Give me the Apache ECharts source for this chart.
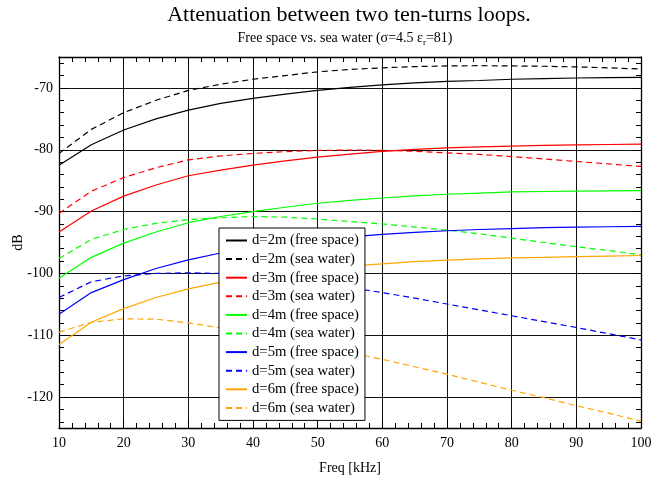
<!DOCTYPE html>
<html>
<head>
<meta charset="utf-8">
<script src="https://cdn.jsdelivr.net/npm/echarts@6/dist/echarts.min.js"></script>
<style>
  html, body { margin: 0; padding: 0; background: #fff; }
  #chart { width: 666px; height: 480px; }
</style>
</head>
<body>
<div id="chart"></div>
<script>
// Frequency samples (kHz)
const freq = [10, 15, 20, 25, 30, 35, 40, 45, 50, 55, 60, 65, 70, 75, 80, 85, 90, 95, 100];

// Attenuation (dB), free space and sea water, per loop separation
const d2Free = [-82.5, -79.2, -76.8, -75.0, -73.6, -72.5, -71.7, -71.0, -70.4, -69.9, -69.5, -69.2, -68.95, -68.8, -68.6, -68.5, -68.4, -68.35, -68.3];
const d2Sea  = [-80.6, -76.7, -74.0, -72.0, -70.4, -69.4, -68.6, -68.0, -67.4, -67.0, -66.75, -66.55, -66.45, -66.4, -66.45, -66.5, -66.6, -66.75, -66.95];
const d3Free = [-93.3, -89.9, -87.5, -85.7, -84.2, -83.3, -82.5, -81.8, -81.2, -80.7, -80.25, -79.95, -79.7, -79.55, -79.4, -79.3, -79.2, -79.15, -79.1];
const d3Sea  = [-90.3, -86.7, -84.5, -82.9, -81.65, -81.0, -80.6, -80.3, -80.1, -80.05, -80.1, -80.25, -80.5, -80.75, -81.1, -81.5, -81.9, -82.3, -82.7];
const d4Free = [-100.8, -97.4, -95.1, -93.3, -91.8, -90.8, -90.0, -89.3, -88.65, -88.2, -87.8, -87.45, -87.2, -87.0, -86.8, -86.75, -86.7, -86.65, -86.6];
const d4Sea  = [-97.6, -94.5, -92.9, -91.9, -91.3, -91.0, -90.8, -90.9, -91.2, -91.6, -92.0, -92.5, -93.0, -93.6, -94.3, -95.0, -95.7, -96.3, -97.0];
const d5Free = [-106.6, -103.1, -101.0, -99.2, -97.8, -96.7, -95.8, -95.1, -94.6, -94.1, -93.7, -93.35, -93.1, -92.9, -92.75, -92.6, -92.5, -92.45, -92.4];
const d5Sea  = [-103.9, -101.35, -100.4, -100.0, -99.9, -100.0, -100.4, -100.9, -101.6, -102.3, -103.1, -104.0, -104.95, -105.9, -106.85, -107.8, -108.75, -109.75, -110.75];
const d6Free = [-111.5, -107.9, -105.7, -103.9, -102.5, -101.4, -100.5, -99.8, -99.3, -98.8, -98.45, -98.1, -97.85, -97.65, -97.5, -97.4, -97.3, -97.2, -97.1];
const d6Sea  = [-109.5, -107.9, -107.35, -107.4, -108.0, -108.8, -109.7, -110.7, -111.8, -112.8, -113.9, -115.1, -116.3, -117.6, -118.9, -120.1, -121.4, -122.6, -123.9];

// Axis extents and labelled ticks
const xRange = [10, 100];
const yRange = [-125, -65];
const yTicks = [-120, -110, -100, -90, -80, -70];

const FONT = '"Liberation Serif", "DejaVu Serif", serif';

const curves = [
  { name: 'd=2m (free space)', data: d2Free, color: '#000000', dash: false },
  { name: 'd=2m (sea water)',  data: d2Sea,  color: '#000000', dash: true },
  { name: 'd=3m (free space)', data: d3Free, color: '#ff0000', dash: false },
  { name: 'd=3m (sea water)',  data: d3Sea,  color: '#ff0000', dash: true },
  { name: 'd=4m (free space)', data: d4Free, color: '#00ff00', dash: false },
  { name: 'd=4m (sea water)',  data: d4Sea,  color: '#00ff00', dash: true },
  { name: 'd=5m (free space)', data: d5Free, color: '#0000ff', dash: false },
  { name: 'd=5m (sea water)',  data: d5Sea,  color: '#0000ff', dash: true },
  { name: 'd=6m (free space)', data: d6Free, color: '#ffa500', dash: false },
  { name: 'd=6m (sea water)',  data: d6Sea,  color: '#ffa500', dash: true }
];

const chart = echarts.init(document.getElementById('chart'), null, { renderer: 'canvas' });

const gridLine = { show: true, lineStyle: { color: '#111', width: 1 } };
const frameLine = { show: true, onZero: false, lineStyle: { color: '#000', width: 1.3 } };

const xBase = {
  type: 'value', min: xRange[0], max: xRange[1], interval: 10,
  axisLine: frameLine,
  axisTick: { show: true, inside: true, length: 9, lineStyle: { color: '#000' } },
  minorTick: { show: true, splitNumber: 5, length: 5, lineStyle: { color: '#000' } },
  splitLine: { show: false }
};
// y ticks are left to the nice-number logic (step 10) so they land on multiples of 10
const yBase = {
  type: 'value', min: yRange[0], max: yRange[1], splitNumber: 6,
  axisLine: frameLine,
  axisTick: { show: true, inside: true, length: 9, lineStyle: { color: '#000' } },
  minorTick: { show: true, splitNumber: 5, length: 5, lineStyle: { color: '#000' } },
  splitLine: { show: false }
};

chart.setOption({
  animation: false,
  backgroundColor: '#fff',
  title: [
    {
      text: 'Attenuation between two ten-turns loops.',
      left: 344, top: -1, textAlign: 'center',
      textStyle: { fontFamily: FONT, fontSize: 22, fontWeight: 'normal', color: '#000' }
    },
    {
      text: '{a|Free space vs. sea water (σ=4.5 ε}{s|r}{a|=81)}',
      left: 340, top: 24, textAlign: 'center',
      textStyle: {
        fontFamily: FONT, fontSize: 14, fontWeight: 'normal', color: '#000',
        rich: {
          a: { fontFamily: FONT, fontSize: 14, fontWeight: 'normal', color: '#000', lineHeight: 18 },
          s: { fontFamily: FONT, fontSize: 9, fontWeight: 'normal', color: '#000', lineHeight: 18, verticalAlign: 'bottom', padding: [6, 0, 0, 0] }
        }
      }
    }
  ],
  legend: {
    orient: 'vertical',
    left: 219, top: 228,
    padding: [5, 6, 5, 6],
    itemWidth: 21, itemHeight: 14, itemGap: 3.6,
    backgroundColor: '#fff',
    borderColor: '#000', borderWidth: 1,
    itemStyle: { opacity: 0 },
    textStyle: { fontFamily: FONT, fontSize: 14.7, color: '#000' },
    data: curves.map(c => c.name)
  },
  grid: { left: 59, right: 25, top: 57, bottom: 52, containLabel: false, outerBoundsMode: 'none' },
  xAxis: [
    Object.assign({}, xBase, {
      position: 'bottom',
      name: 'Freq [kHz]', nameLocation: 'middle', nameGap: 33,
      nameTextStyle: { fontFamily: FONT, fontSize: 14, color: '#000' },
      axisLabel: { show: true, margin: 8, fontFamily: FONT, fontSize: 14, color: '#000' },
      splitLine: gridLine
    }),
    Object.assign({}, xBase, { position: 'top', axisLabel: { show: false } })
  ],
  yAxis: [
    Object.assign({}, yBase, {
      position: 'left',
      name: 'dB', nameLocation: 'middle', nameGap: 34, nameRotate: 90, nameMoveOverlap: false,
      nameTextStyle: { fontFamily: FONT, fontSize: 14, color: '#000' },
      axisLabel: {
        show: true, margin: 6, fontFamily: FONT, fontSize: 14, color: '#000',
        formatter: v => (yTicks.indexOf(v) >= 0 ? String(v) : '')
      },
      splitLine: gridLine
    }),
    Object.assign({}, yBase, { position: 'right', axisLabel: { show: false } })
  ],
  series: curves.map(c => ({
    name: c.name,
    type: 'line',
    data: freq.map((f, i) => [f, c.data[i]]),
    showSymbol: false,
    symbol: 'none',
    smooth: false,
    clip: true,
    itemStyle: { color: c.color },
    lineStyle: { color: c.color, width: 1.2, type: c.dash ? [6, 4] : 'solid' }
  }))
});
</script>
</body>
</html>
